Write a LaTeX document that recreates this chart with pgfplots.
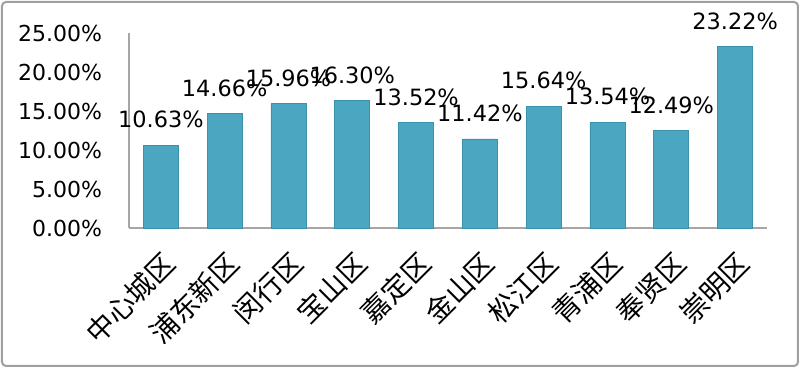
\documentclass[border=0pt]{standalone}
\usepackage{pgfplots}
\pgfplotsset{compat=1.18}
\usepackage{fontspec}
\setmainfont{DejaVu Sans}
\newfontfamily\cjk{Noto Sans CJK SC}
\definecolor{barc}{RGB}{75,166,193}
\definecolor{bard}{RGB}{62,145,172}
\begin{document}
\begin{tikzpicture}
\useasboundingbox (-64.5pt,-70pt) rectangle (335.5pt,114pt);
\draw[gray!75, line width=1pt, rounded corners=2pt] (-63.5pt,-69pt) rectangle (334.5pt,113pt);
\begin{axis}[
  at={(0,0)}, anchor=south west,
  scale only axis, width=319pt, height=97.5pt,
  xmin=-0.5, xmax=9.5, ymin=0, ymax=25,
  axis x line*=bottom, axis y line*=left,
  axis line style={gray!70, line width=0.6pt, -},
  major tick length=0pt,
  /pgf/number format/assume math mode=true,
  ytick={0,5,10,15,20,25},
  yticklabel={\pgfmathprintnumber[fixed,fixed zerofill,precision=2]{\tick}\%},
  yticklabel style={font=\fontsize{11}{11}\selectfont, xshift=-10pt},
  xtick={0,...,9},
  xticklabels={中心城区,浦东新区,闵行区,宝山区,嘉定区,金山区,松江区,青浦区,奉贤区,崇明区},
  xticklabel style={font=\cjk\fontsize{14}{14}\selectfont, rotate=45, anchor=east, yshift=-14pt, xshift=-4pt},
  ybar, bar width=17.5pt,
  nodes near coords={\pgfmathprintnumber[fixed,fixed zerofill,precision=2]{\pgfplotspointmeta}\%},
  every node near coord/.append style={font=\fontsize{11.2}{11.2}\selectfont, black, yshift=5pt},
  clip=false,
]
\addplot[fill=barc, draw=bard, line width=0.4pt] coordinates {
(0,10.63) (1,14.66) (2,15.96) (3,16.30) (4,13.52) (5,11.42) (6,15.64) (7,13.54) (8,12.49) (9,23.22)
};
\end{axis}
\end{tikzpicture}
\end{document}
